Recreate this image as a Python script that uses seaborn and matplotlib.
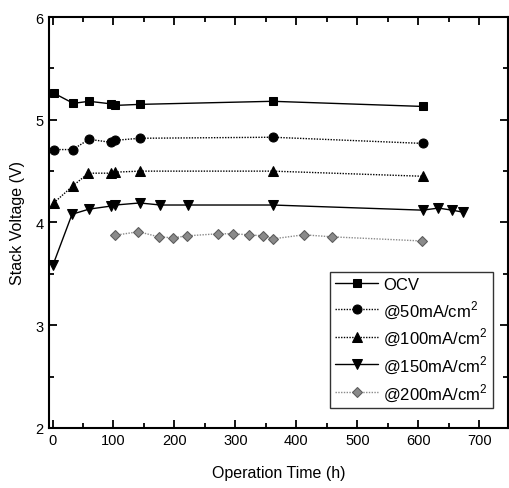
import matplotlib
matplotlib.use("Agg")
import matplotlib.pyplot as plt
import seaborn as sns
from matplotlib.ticker import MultipleLocator

# Operation time (h) and stack voltage (V) for each condition
ocv_t = [2, 34, 60, 96, 103, 143, 361, 607]
ocv_v = [5.26, 5.16, 5.18, 5.155, 5.14, 5.15, 5.18, 5.13]

i50_t = [2, 33, 60, 96, 103, 143, 361, 607]
i50_v = [4.71, 4.71, 4.81, 4.78, 4.80, 4.82, 4.83, 4.77]

i100_t = [2, 34, 59, 96, 103, 143, 361, 607]
i100_v = [4.19, 4.36, 4.48, 4.48, 4.49, 4.50, 4.50, 4.45]

i150_t = [1, 32, 60, 96, 103, 143, 177, 223, 361, 607, 633, 655, 674]
i150_v = [3.59, 4.08, 4.13, 4.16, 4.17, 4.19, 4.17, 4.17, 4.17, 4.12, 4.14, 4.12, 4.10]

i200_t = [102, 141, 174, 198, 221, 272, 296, 322, 345, 361, 412, 459, 606]
i200_v = [3.875, 3.91, 3.86, 3.85, 3.87, 3.89, 3.89, 3.88, 3.87, 3.84, 3.88, 3.86, 3.82]

sns.set_style("ticks")
plt.rcParams["font.family"] = ["Liberation Sans", "DejaVu Sans"]
plt.rcParams["mathtext.fontset"] = "custom"
plt.rcParams["mathtext.rm"] = "Liberation Sans"
for key in ["text.color", "axes.labelcolor", "xtick.color", "ytick.color", "axes.edgecolor"]:
    plt.rcParams[key] = "black"

fig = plt.figure(figsize=(5.09, 4.89), dpi=100)
ax = fig.add_axes([0.096, 0.123, 0.902, 0.840])

series = [
    (ocv_t, ocv_v, "OCV", "s", 6, "-", "black", "black"),
    (i50_t, i50_v, r"@50mA/cm$^2$", "o", 6.5, (0, (1, 1)), "black", "black"),
    (i100_t, i100_v, r"@100mA/cm$^2$", "^", 6.5, (0, (1, 1)), "black", "black"),
    (i150_t, i150_v, r"@150mA/cm$^2$", "v", 7, "-", "black", "black"),
    (i200_t, i200_v, r"@200mA/cm$^2$", "D", 5, (0, (1, 1)), "#8a8a8a", "#5a5a5a"),
]

for t, v, name, mk, ms, ls, col, edge in series:
    sns.lineplot(x=t, y=v, ax=ax, label=name, marker=mk, markersize=ms,
                 linestyle=ls, color=col, markeredgecolor=edge,
                 linewidth=1.0, sort=False, estimator=None)

ax.set_xlim(-6, 747)
ax.set_ylim(2, 6)
ax.xaxis.set_major_locator(MultipleLocator(100))
ax.xaxis.set_minor_locator(MultipleLocator(50))
ax.yaxis.set_major_locator(MultipleLocator(1))
ax.yaxis.set_minor_locator(MultipleLocator(0.5))
ax.tick_params(which="both", direction="in", top=True, right=True,
               labelsize=10.5, width=1.3, colors="black")
ax.tick_params(which="major", length=6, pad=4)
ax.tick_params(which="minor", length=3.5)
for sp in ax.spines.values():
    sp.set_linewidth(1.5)
    sp.set_color("black")

ax.set_xlabel("Operation Time (h)", fontsize=11.5, labelpad=13)
ax.set_ylabel("Stack Voltage (V)", fontsize=11.5, labelpad=7)

leg = ax.legend(loc="lower right", bbox_to_anchor=(0.967, 0.049),
                fontsize=12, frameon=True, fancybox=False, edgecolor="black",
                handlelength=2.6, labelspacing=0.35, borderpad=0.3,
                handletextpad=0.3, borderaxespad=0)
leg.get_frame().set_linewidth(1.0)

fig.savefig("out.png", dpi=100)
